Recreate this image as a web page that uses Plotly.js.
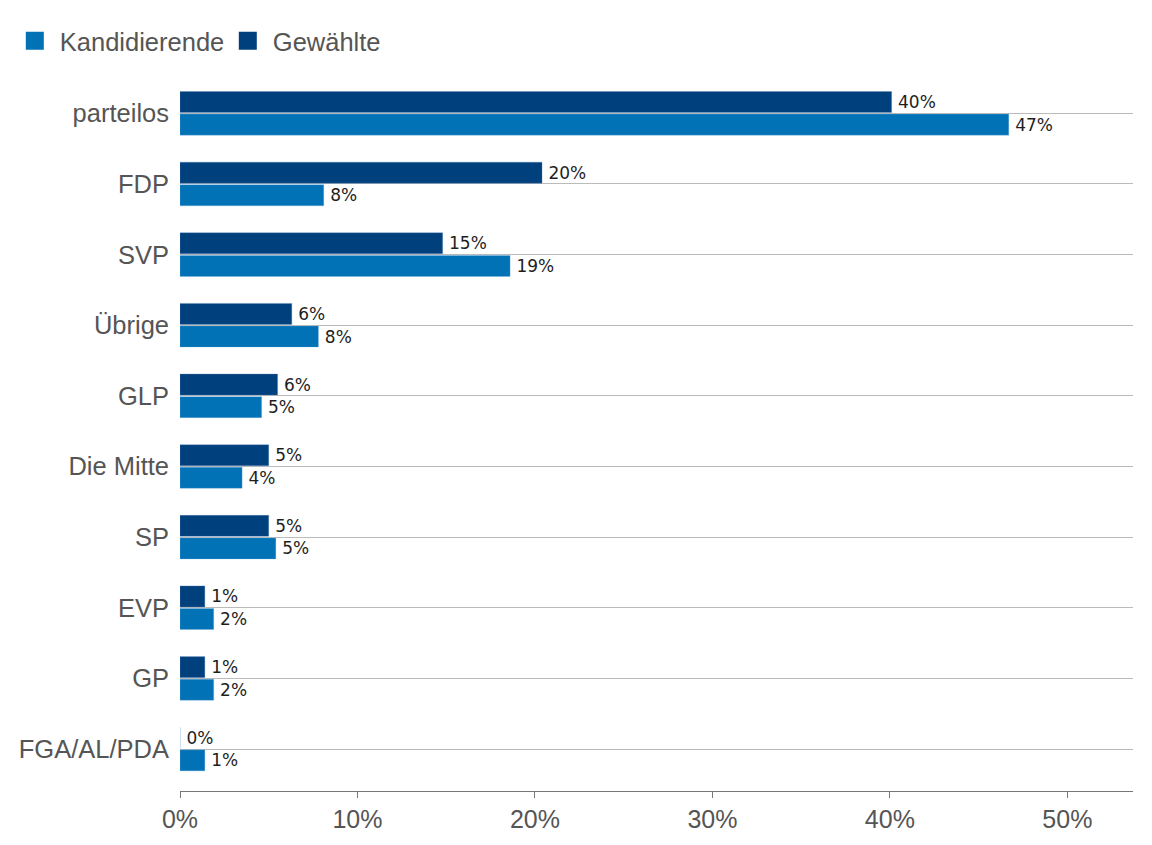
<!DOCTYPE html>
<html>
<head>
<meta charset="utf-8">
<script src="https://cdn.plot.ly/plotly-3.0.1.min.js"></script>
<style>html,body{margin:0;padding:0;background:#fff;}#chart{width:1152px;height:845px;}</style>
</head>
<body>
<div id="chart"></div>
<script>
// Categories, top to bottom
const categories = ["parteilos", "FDP", "SVP", "Übrige", "GLP", "Die Mitte", "SP", "EVP", "GP", "FGA/AL/PDA"];
// Share of candidates (%)
const kandidierende = [46.7, 8.1, 18.6, 7.8, 4.6, 3.5, 5.4, 1.9, 1.9, 1.4];
// Share of elected (%)
const gewaehlte = [40.1, 20.4, 14.8, 6.3, 5.5, 5.0, 5.0, 1.4, 1.4, 0.0];
const xTickVals = [0, 10, 20, 30, 40, 50];

const colK = "rgb(0,114,181)";
const colG = "rgb(0,65,125)";
const labelFont = {family: "DejaVu Sans", size: 17, color: "#1e1e1e"};
const fmt = v => "\u2009" + Math.round(v) + "%";

const traces = [
  {
    type: "bar", orientation: "h", name: "Kandidierende", showlegend: false,
    x: kandidierende, y: categories,
    marker: {color: colK, line: {color: "rgba(120,170,220,0.6)", width: 0.5}},
    text: kandidierende.map(fmt),
    textposition: "outside", cliponaxis: false,
    textfont: labelFont, hoverinfo: "x+y"
  },
  {
    type: "bar", orientation: "h", name: "Gewählte", showlegend: false,
    x: gewaehlte, y: categories,
    marker: {color: colG, line: {color: "rgba(90,130,190,0.6)", width: 0.5}},
    text: gewaehlte.map(fmt),
    textposition: "outside", cliponaxis: false,
    textfont: labelFont, hoverinfo: "x+y"
  },
  // legend entries (large square swatches)
  {
    type: "scatter", mode: "markers", name: "Kandidierende", x: [null], y: [null],
    marker: {symbol: "square", size: 16, color: colK, line: {color: colK, width: 2}},
    showlegend: true, hoverinfo: "skip"
  },
  {
    type: "scatter", mode: "markers", name: "Gewählte", x: [null], y: [null],
    marker: {symbol: "square", size: 16, color: colG, line: {color: colG, width: 2}},
    showlegend: true, hoverinfo: "skip"
  }
];

const layout = {
  width: 1152, height: 845,
  margin: {l: 180, r: 19, t: 78, b: 54},
  paper_bgcolor: "#fff", plot_bgcolor: "#fff",
  font: {family: "Liberation Sans, Arial, sans-serif", size: 25, color: "#555"},
  barmode: "group",
  bargap: 0.36, bargroupgap: 0.07,
  showlegend: true,
  legend: {
    orientation: "h", xref: "container", yref: "container",
    x: 0.0085, y: 0.979, xanchor: "left", yanchor: "top",
    font: {family: "Liberation Sans, Arial, sans-serif", size: 25.5, color: "#555"},
    itemwidth: 40, traceorder: "normal",
    entrywidth: 158, entrywidthmode: "pixels"
  },
  xaxis: {
    range: [0, 53.7], tickvals: xTickVals, ticktext: xTickVals.map(v => v + "%"),
    showgrid: false, zeroline: false,
    showline: true, linecolor: "#777", linewidth: 1,
    ticks: "outside", ticklen: 6, tickcolor: "#777",
    tickfont: {size: 25, color: "#555"}
  },
  yaxis: {
    type: "category",
    categoryorder: "array", categoryarray: categories.slice().reverse(),
    range: [-0.594, 9.5],
    showgrid: true, gridcolor: "#bbb", gridwidth: 1,
    zeroline: false, showline: false, ticks: "",
    ticklabelstandoff: 10,
    tickfont: {size: 25.5, color: "#555"}
  }
};

Plotly.newPlot("chart", traces, layout, {displayModeBar: false, staticPlot: true});
</script>
</body>
</html>
